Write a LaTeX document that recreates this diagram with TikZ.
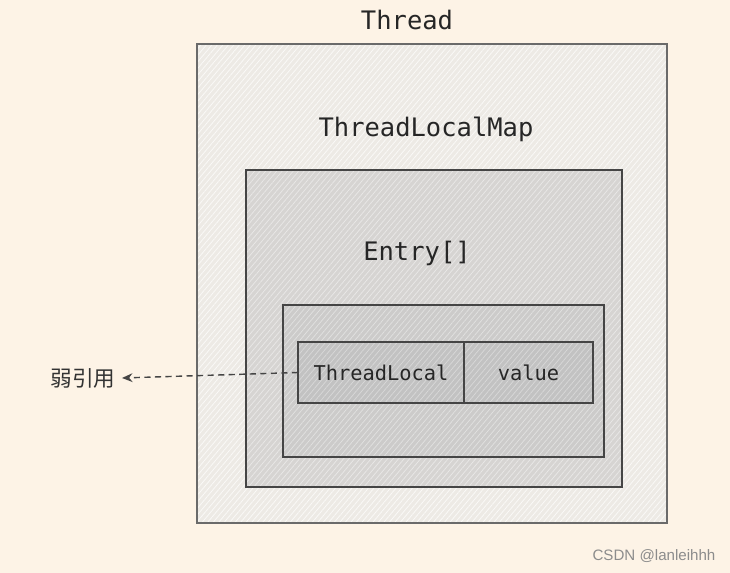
\documentclass[tikz,border=0pt]{standalone}
\usepackage{fontspec}
\setmonofont{DejaVu Sans Mono}
\setsansfont{Liberation Sans}
\newfontfamily\cjk{Noto Sans CJK SC}
\usetikzlibrary{arrows.meta, positioning, patterns.meta}
\definecolor{paper}{HTML}{FDF3E6}
\definecolor{edge}{HTML}{454545}
\definecolor{threadfill}{HTML}{EDEAE5}
\definecolor{mapfill}{HTML}{D6D4D2}
\definecolor{entryfill}{HTML}{CCCBCA}
\definecolor{cellfill}{HTML}{C2C2C2}

\begin{document}
\begin{tikzpicture}[x=0.02cm, y=-0.02cm, >={Stealth[length=6pt, width=5pt]}, line width=0.8pt,
  hatched/.style 2 args={draw=edge, rectangle, inner sep=0pt, outer sep=0pt, preaction={fill=#1},
    pattern={Lines[angle=50, distance=2.4pt, line width=0.45pt]}, pattern color=#2},
  caption/.style={font=\ttfamily\fontsize{14.5}{17}\selectfont, text=black!85},
  celltext/.style={font=\ttfamily\fontsize{11.6}{13}\selectfont, text=black!85}]

  % background and page size
  \fill [paper] (0,0) rectangle (730,573);

  \node [hatched={threadfill}{white!70!threadfill}, draw=edge!80, minimum width=9.4cm, minimum height=9.58cm] (thread) at (432,283.5) {};
  \node [hatched={mapfill}{white!45!mapfill}, minimum width=7.52cm, minimum height=6.34cm] (map) at (434,328.5) {};
  \node [hatched={entryfill}{white!40!entryfill}, minimum width=6.42cm, minimum height=3.04cm] (entries) at (443.5,381) {};
  \node [hatched={cellfill}{white!35!cellfill}, minimum width=3.32cm, minimum height=1.22cm, celltext] (tl) at (381,372.5) {ThreadLocal};
  \node [hatched={cellfill}{white!35!cellfill}, minimum width=2.58cm, minimum height=1.22cm, celltext, right=0pt of tl] (val) {value};

  \node [caption] (threadlbl) at (407,20) {Thread};
  \node [caption] (maplbl) at (426,129) {ThreadLocalMap};
  \node [caption] (entrylbl) at (417,253) {Entry[]};

  \node [font=\cjk\fontsize{12.3}{14}\selectfont, text=black!80] (weak) at (83,378) {弱引用};
  \draw [->, dash pattern=on 3.5pt off 2.5pt, edge] (tl.west) -- (weak.east);

  \node [font=\sffamily\fontsize{8.6}{10}\selectfont, text=black!45] (mark) at (654,556) {CSDN @lanleihhh};
\end{tikzpicture}
\end{document}
